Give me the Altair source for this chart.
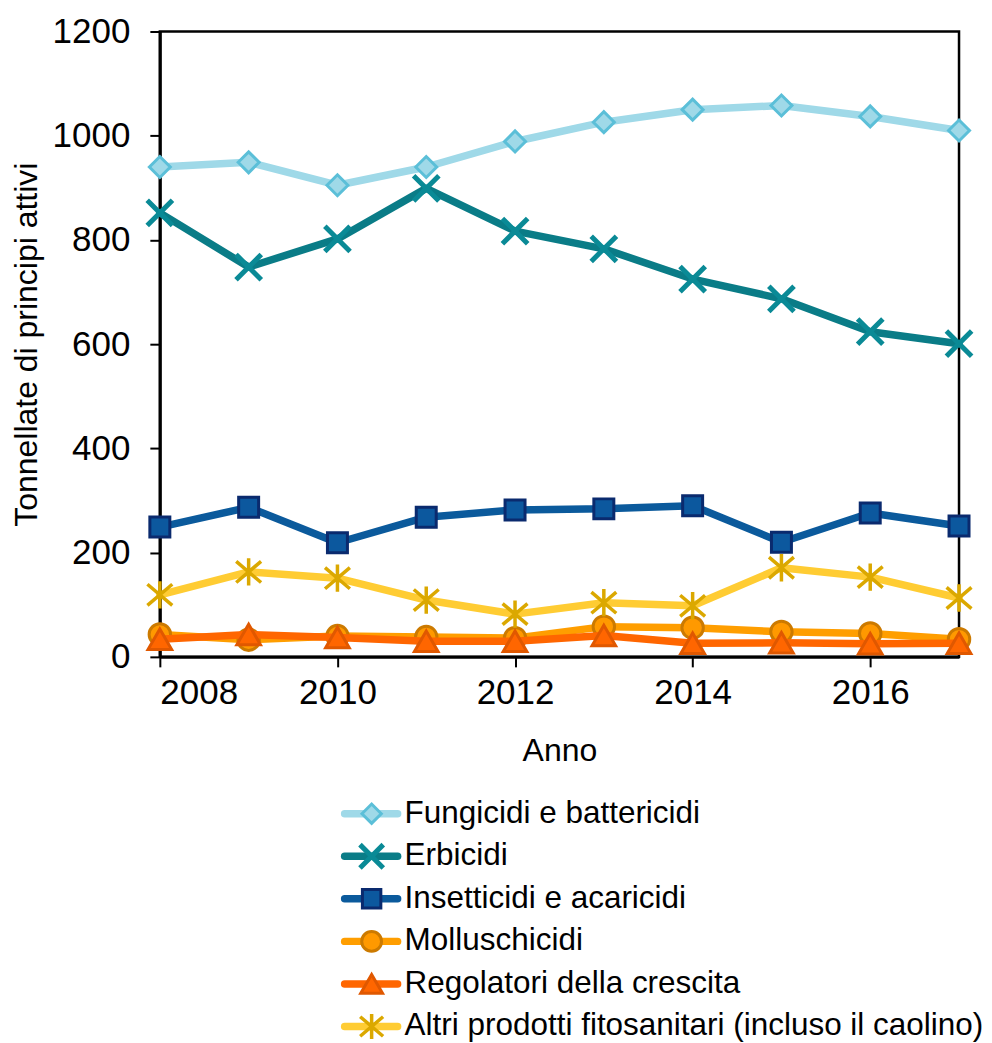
import altair as alt
import pandas as pd

years = [2008, 2009, 2010, 2011, 2012, 2013, 2014, 2015, 2016, 2017]
series_names = [
    "Fungicidi e battericidi",
    "Erbicidi",
    "Insetticidi e acaricidi",
    "Molluschicidi",
    "Regolatori della crescita",
    "Altri prodotti fitosanitari (incluso il caolino)",
]
fungicidi = [940, 949, 905, 940, 989, 1026, 1050, 1058, 1037, 1010]
erbicidi = [852, 748, 802, 899, 817, 783, 725, 687, 624, 601]
insetticidi = [249, 287, 219, 268, 282, 284, 290, 220, 276, 251]
molluschicidi = [43, 33, 40, 38, 36, 58, 56, 48, 45, 34]
regolatori = [34, 43, 37, 30, 30, 41, 26, 27, 25, 26]
altri = [119, 163, 151, 109, 82, 104, 98, 171, 153, 113]
all_values = [fungicidi, erbicidi, insetticidi, molluschicidi, regolatori, altri]

x_ticks = [2008, 2010, 2012, 2014, 2016]
y_ticks = [0, 200, 400, 600, 800, 1000, 1200]

X_PATH = "M-1,-1L1,1M1,-1L-1,1"
AST_PATH = "M-1,-0.85L1,0.85M1,-0.85L-1,0.85M0,-1.1L0,1.1"

styles = [
    dict(line="#9fd9e8", shape="diamond", fill="#9fd9e8", stroke="#5bbfd8", size=440, sw=3, filled=True),
    dict(line="#0a7c87", shape=X_PATH, fill=None, stroke="#0a8a96", size=640, sw=5, filled=False),
    dict(line="#0b5a9c", shape="square", fill="#0c589e", stroke="#0a2a6e", size=400, sw=3, filled=True),
    dict(line="#ff9e00", shape="circle", fill="#ff9900", stroke="#cc7a00", size=460, sw=3, filled=True),
    dict(line="#ff6600", shape="triangle-up", fill="#ff6600", stroke="#e05800", size=560, sw=3, filled=True),
    dict(line="#ffcc33", shape=AST_PATH, fill=None, stroke="#dba800", size=620, sw=3.5, filled=False),
]

FONT = "Liberation Sans"

xs = alt.X("year:Q", scale=alt.Scale(domain=[2008, 2017], nice=False, zero=False),
           axis=alt.Axis(values=x_ticks, format="d", title="Anno", titlePadding=25,
                         labelPadding=9))
ys = alt.Y("value:Q", scale=alt.Scale(domain=[0, 1200], nice=False),
           axis=alt.Axis(values=y_ticks, format="d", title="Tonnellate di principi attivi",
                         titlePadding=9, labelPadding=20))

layers = []
for name, vals, st in zip(series_names, all_values, styles):
    df = pd.DataFrame({"year": years, "value": vals, "series": name})
    base = alt.Chart(df)
    layers.append(base.mark_line(color=st["line"], strokeWidth=7.5, strokeCap="round",
                                 strokeJoin="round").encode(x=xs, y=ys))
    pkw = dict(shape=st["shape"], size=st["size"], stroke=st["stroke"], strokeWidth=st["sw"],
               opacity=1, filled=st["filled"])
    if st["filled"]:
        pkw["fill"] = st["fill"]
    layers.append(base.mark_point(**pkw).encode(x=xs, y=ys))

main = alt.layer(*layers).properties(
    width=800, height=626,
    view=alt.ViewBackground(stroke="black", strokeWidth=2.5),
)

# legend
leg_df = pd.DataFrame({"series": series_names, "order": list(range(len(series_names)))})
ly = alt.Y("series:N", sort=series_names, scale=alt.Scale(type="point", padding=0), axis=None)
leg_layers = []
for name, st in zip(series_names, styles):
    d = leg_df[leg_df["series"] == name]
    b = alt.Chart(d)
    leg_layers.append(b.mark_rule(color=st["line"], strokeWidth=7.5, strokeCap="round").encode(
        x=alt.value(185), x2=alt.value(238), y=ly))
    pkw = dict(shape=st["shape"], size=st["size"] * 0.85, stroke=st["stroke"], strokeWidth=st["sw"],
               opacity=1, filled=st["filled"])
    if st["filled"]:
        pkw["fill"] = st["fill"]
    leg_layers.append(b.mark_point(**pkw).encode(x=alt.value(212), y=ly))
    leg_layers.append(b.mark_text(align="left", baseline="middle", font=FONT, fontSize=31.5,
                                  color="black").encode(x=alt.value(245), y=ly, text="series:N"))

legend = alt.layer(*leg_layers).properties(
    width=800, height=213,
    view=alt.ViewBackground(stroke="transparent", strokeWidth=0),
)

chart = alt.vconcat(main, legend, spacing=29).properties(
    padding={"left": 0, "top": 4, "right": 0, "bottom": 0}
).configure_axis(
    labelFont=FONT, titleFont=FONT, labelFontSize=35, titleFontSize=32,
    labelColor="black", titleColor="black", titleFontWeight="normal",
    domainColor="black", domainWidth=3, tickColor="black", tickSize=10, tickWidth=2,
    grid=False,
)

chart.save("out.html", embed_options={"renderer": "svg", "actions": False})
